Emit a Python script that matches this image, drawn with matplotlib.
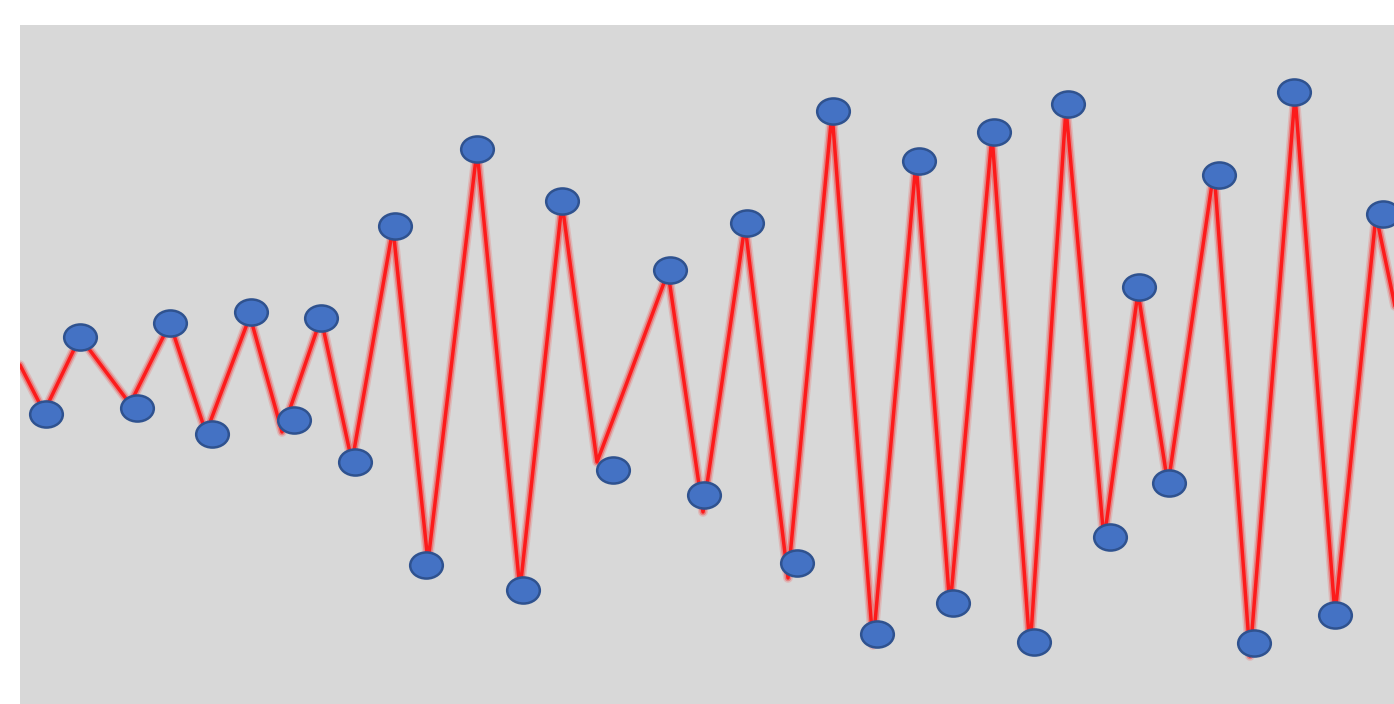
import matplotlib
matplotlib.use("Agg")
import matplotlib.pyplot as plt
from matplotlib.path import Path
from matplotlib.transforms import Affine2D

# Marker points (x position, value)
pt_x = [46, 80, 137, 170, 212, 251, 294, 321, 355, 395, 426, 477, 523, 562, 613, 670, 704,
        747, 797, 833, 877, 919, 953, 994, 1034, 1068, 1110, 1139, 1169, 1219, 1254, 1294, 1335, 1383]
pt_py = [414, 337, 408, 323, 434, 312, 420, 318, 462, 226, 565, 149, 590, 201, 470, 270, 495,
         223, 563, 111, 634, 161, 603, 132, 642, 104, 537, 287, 483, 175, 643, 92, 615, 214]

# Red line vertices
ln_x = [20, 44, 80, 130, 170, 206, 250, 282, 321, 352, 393, 428, 477, 520, 562, 597, 626, 668,
        703, 745, 788, 832, 873, 916, 950, 992, 1030, 1066, 1104, 1138, 1168, 1214, 1250, 1295,
        1335, 1376, 1400]
ln_py = [365, 412, 337, 404, 323, 433, 316, 432, 318, 462, 228, 562, 150, 590, 203, 462, 385, 272,
         512, 225, 578, 112, 645, 162, 608, 135, 650, 108, 540, 292, 485, 170, 656, 95,
         615, 215, 330]

TOP = 704
pt_y = [TOP - v for v in pt_py]
ln_y = [TOP - v for v in ln_py]

fig = plt.figure(figsize=(13.94, 7.04), dpi=100)
ax = fig.add_axes([20 / 1394, 0, 1374 / 1394, 679 / 704])
ax.set_facecolor("#D8D8D8")
ax.set_xlim(20, 1394)
ax.set_ylim(0, 679)
for s in ax.spines.values():
    s.set_visible(False)
ax.set_xticks([])
ax.set_yticks([])

# soft red line (layered to simulate blur)
ax.plot(ln_x, ln_y, color="#FF0000", lw=7.0, alpha=0.14, solid_capstyle="round", solid_joinstyle="round", zorder=2)
ax.plot(ln_x, ln_y, color="#FF0000", lw=4.8, alpha=0.30, solid_capstyle="round", solid_joinstyle="round", zorder=2)
ax.plot(ln_x, ln_y, color="#FF1010", lw=2.5, alpha=0.9, solid_capstyle="round", solid_joinstyle="round", zorder=3)

ell = Path.unit_circle().transformed(Affine2D().scale(1.0, 0.8))
ax.plot(pt_x, pt_y, linestyle="none", marker=ell, markersize=23.5,
        markerfacecolor="#4472C4", markeredgecolor="#2F528F", markeredgewidth=1.8, zorder=4)

fig.savefig("out.png", dpi=100, facecolor="white")
